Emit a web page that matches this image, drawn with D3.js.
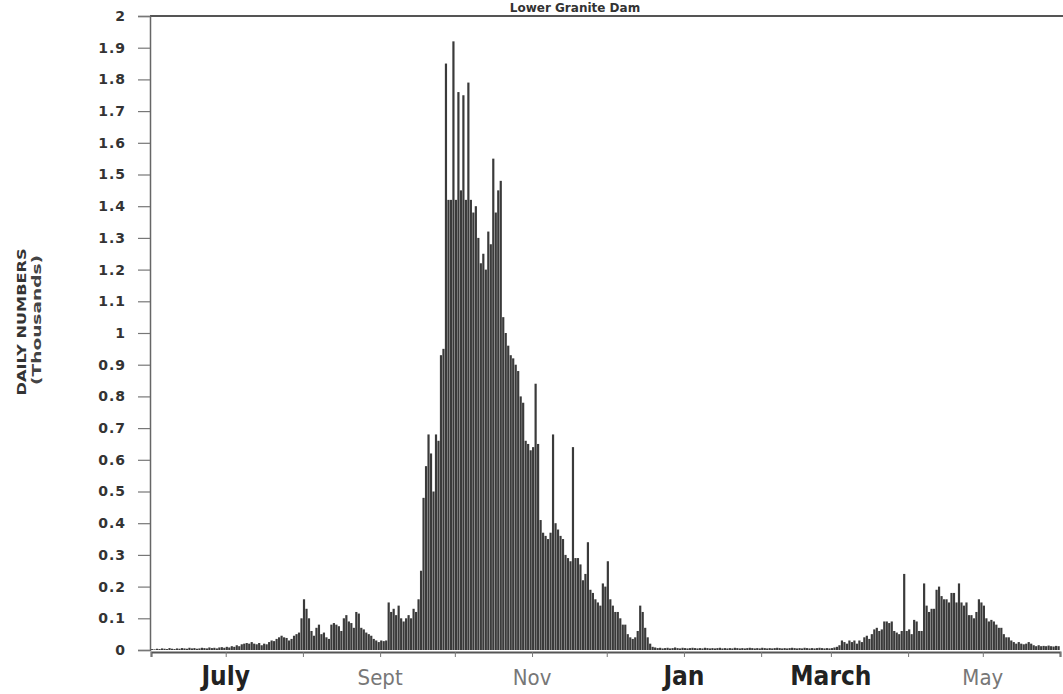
<!DOCTYPE html>
<html>
<head>
<meta charset="utf-8">
<script src="https://cdn.jsdelivr.net/npm/d3@7/dist/d3.min.js"></script>
<style>
  html, body { margin: 0; padding: 0; background: #fff; }
  svg { display: block; }
</style>
</head>
<body>
<svg id="chart" width="1063" height="694"></svg>
<script>
// ---------------- DATA ----------------
const chartTitle = "Lower Granite Dam";
const yTitle = "DAILY NUMBERS";
const ySubTitle = "(Thousands)";
const startDate = "1990-06-01";   // first day of the series
const endDate = "1991-06-01";
// daily passage (thousands), one value per day from June 1
const dailyThousands = [
  // June
  0.003,0.002,0.004,0.003,0.005,0.004,0.003,0.006,0.004,0.003,0.005,0.004,0.006,0.005,0.004,
  0.007,0.005,0.006,0.004,0.005,0.007,0.006,0.005,0.008,0.006,0.007,0.005,0.008,0.009,0.007,
  // July - Aug 2
  0.01,0.008,0.012,0.01,0.015,0.012,0.018,0.02,0.022,0.02,0.025,0.02,0.018,0.022,0.015,0.02,
  0.018,0.025,0.03,0.028,0.035,0.04,0.045,0.04,0.038,0.03,0.035,0.045,0.05,0.055,0.1,0.16,0.13,
  // Aug 3 - Sept 15
  0.1,0.06,0.045,0.07,0.08,0.05,0.055,0.04,0.035,0.08,0.085,0.08,0.075,0.06,0.1,0.11,0.09,
  0.085,0.07,0.12,0.115,0.07,0.065,0.055,0.05,0.045,0.035,0.03,0.025,0.03,0.028,0.03,0.15,
  0.12,0.13,0.11,0.14,0.1,0.09,0.1,0.11,0.1,0.13,0.12,0.16,
  // Sept 16 - Dec 19
  0.25,0.48,0.58,0.68,0.62,0.5,0.68,0.66,0.93,0.95,1.85,1.42,1.42,1.92,1.42,1.76,1.45,1.75,
  1.42,1.79,1.42,1.38,1.4,1.3,1.22,1.25,1.2,1.32,1.28,1.55,1.38,1.45,1.48,1.05,1.0,0.96,0.93,
  0.92,0.9,0.88,0.8,0.78,0.66,0.65,0.63,0.64,0.84,0.65,0.41,0.37,0.36,0.35,0.37,0.68,0.4,0.38,
  0.36,0.35,0.3,0.29,0.28,0.64,0.29,0.29,0.27,0.22,0.24,0.34,0.19,0.18,0.16,0.15,0.14,0.21,
  0.2,0.28,0.16,0.14,0.12,0.12,0.1,0.08,0.08,0.05,0.04,0.035,0.04,0.06,0.14,0.12,0.07,0.04,
  0.02,0.01,
  // Dec 20 - Feb 27
  0.008,0.006,0.007,0.005,0.006,0.007,0.005,0.006,0.008,0.006,
  0.005,0.007,0.006,0.005,0.006,0.007,0.006,0.005,0.006,0.005,
  0.007,0.006,0.005,0.006,0.005,0.006,0.007,0.005,0.006,0.005,
  0.006,0.005,0.007,0.006,0.005,0.006,0.005,0.006,0.007,0.006,
  0.005,0.006,0.005,0.007,0.006,0.005,0.006,0.005,0.006,0.007,
  0.006,0.005,0.006,0.005,0.006,0.007,0.006,0.005,0.006,0.005,
  0.007,0.006,0.005,0.006,0.005,0.006,0.007,0.006,0.005,0.006,
  // Feb 28 - May 31
  0.005,0.006,0.008,0.01,0.015,0.03,0.025,0.02,0.03,0.025,0.03,0.02,0.03,0.025,0.04,0.045,
  0.035,0.05,0.065,0.07,0.06,0.065,0.09,0.09,0.085,0.09,0.06,0.055,0.05,0.06,0.24,0.06,0.065,
  0.05,0.095,0.09,0.06,0.06,0.21,0.14,0.12,0.13,0.13,0.19,0.2,0.17,0.16,0.16,0.15,0.18,0.18,
  0.15,0.21,0.15,0.14,0.15,0.11,0.11,0.1,0.12,0.16,0.15,0.14,0.1,0.09,0.095,0.09,0.08,0.07,
  0.07,0.05,0.04,0.04,0.03,0.025,0.02,0.025,0.02,0.018,0.02,0.025,0.02,0.015,0.012,0.015,
  0.012,0.013,0.012,0.014,0.012,0.011,0.013,0.012
];
const yTicks = [0,0.1,0.2,0.3,0.4,0.5,0.6,0.7,0.8,0.9,1,1.1,1.2,1.3,1.4,1.5,1.6,1.7,1.8,1.9,2];
const yTickLabels = ["0","0.1","0.2","0.3","0.4","0.5","0.6","0.7","0.8","0.9","1",
                     "1.1","1.2","1.3","1.4","1.5","1.6","1.7","1.8","1.9","2"];
const monthLabelDates = ["1990-07-01","1990-09-01","1990-11-01","1991-01-01","1991-03-01","1991-05-01"];
const monthLabelTexts = ["July","Sept","Nov","Jan","March","May"];
const monthLabelBold  = [true, false, false, true, true, false];

// ---------------- CHART ----------------
const parse = d3.timeParse("%Y-%m-%d");
const svg = d3.select("#chart");

const x = d3.scaleTime().domain([parse(startDate), parse(endDate)]).range([151, 1060]);
const y = d3.scaleLinear().domain([0, 2]).range([650, 16]);

const days = dailyThousands.map((v, i) => ({ date: d3.timeDay.offset(parse(startDate), i), v }));

// title
svg.append("text")
  .attr("x", 575).attr("y", 12)
  .attr("text-anchor", "middle")
  .attr("font-family", "DejaVu Sans, sans-serif")
  .attr("font-weight", "bold")
  .attr("font-size", 12)
  .attr("fill", "#333")
  .text(chartTitle);

// top frame line
svg.append("line")
  .attr("x1", 150).attr("x2", 1063)
  .attr("y1", y(2)).attr("y2", y(2))
  .attr("stroke", "#555").attr("stroke-width", 2);

// bars
svg.append("g").selectAll("rect").data(days).join("rect")
  .attr("x", d => x(d.date))
  .attr("width", d => Math.max(0.5, x(d3.timeDay.offset(d.date, 1)) - x(d.date) - 0.3))
  .attr("y", d => y(d.v))
  .attr("height", d => y(0) - y(d.v))
  .attr("fill", "#3a3a3a");

// x axis
const xAxis = svg.append("g")
  .attr("transform", `translate(0,${y(0) + 2})`)
  .call(d3.axisBottom(x).ticks(d3.timeMonth.every(1)).tickSize(5).tickFormat(""));
xAxis.select(".domain").attr("stroke", "#555").attr("stroke-width", 2);
xAxis.selectAll(".tick line").attr("stroke", "#777");

svg.append("g").selectAll("text").data(monthLabelTexts).join("text")
  .attr("x", (t, i) => x(parse(monthLabelDates[i])))
  .attr("y", 685)
  .attr("text-anchor", "middle")
  .attr("font-family", "Liberation Sans Narrow, DejaVu Sans Condensed, sans-serif")
  .attr("font-weight", (t, i) => monthLabelBold[i] ? "bold" : "normal")
  .attr("font-size", (t, i) => monthLabelBold[i] ? 26 : 22)
  .attr("fill", (t, i) => monthLabelBold[i] ? "#222" : "#777")
  .text(t => t);

// y axis
const yAxis = svg.append("g")
  .attr("transform", "translate(150,0)")
  .call(d3.axisLeft(y).tickValues(yTicks).tickSize(12).tickPadding(12)
    .tickFormat((d, i) => yTickLabels[i]));
yAxis.select(".domain").attr("stroke", "#666").attr("stroke-width", 1.5);
yAxis.selectAll(".tick line").attr("stroke", "#777").attr("stroke-width", 1.2);
yAxis.selectAll(".tick text")
  .attr("font-family", "DejaVu Sans, sans-serif")
  .attr("font-weight", "bold")
  .attr("font-size", 14)
  .attr("letter-spacing", 1)
  .attr("fill", "#333");

// y titles
svg.append("text")
  .attr("transform", "translate(26,322) rotate(-90)")
  .attr("text-anchor", "middle")
  .attr("font-family", "DejaVu Sans, sans-serif")
  .attr("font-weight", "bold")
  .attr("font-size", 13)
  .attr("textLength", 147).attr("lengthAdjust", "spacingAndGlyphs")
  .attr("fill", "#333")
  .text(yTitle);
svg.append("text")
  .attr("transform", "translate(41,320) rotate(-90)")
  .attr("text-anchor", "middle")
  .attr("font-family", "DejaVu Sans, sans-serif")
  .attr("font-weight", "bold")
  .attr("font-size", 12)
  .attr("textLength", 130).attr("lengthAdjust", "spacingAndGlyphs")
  .attr("fill", "#444")
  .text(ySubTitle);
</script>
</body>
</html>
